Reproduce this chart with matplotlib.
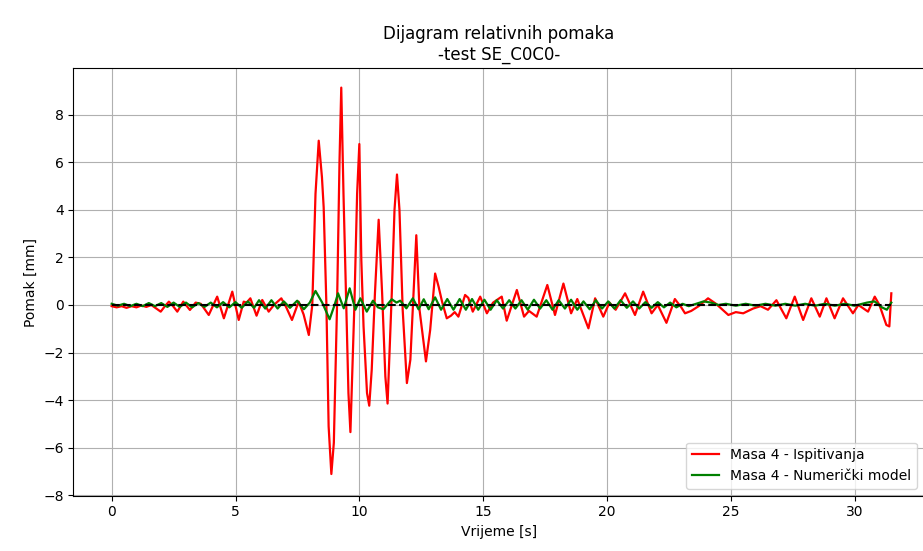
import numpy as np
import matplotlib
matplotlib.use("Agg")
import matplotlib.pyplot as plt

t_exp = [0.0, 0.2, 0.4, 0.6, 0.8, 1.0, 1.2, 1.4, 1.6, 1.8, 1.98, 2.15, 2.31, 2.48,
         2.65, 2.89, 3.16, 3.39, 3.6, 3.92, 4.26, 4.53, 4.87, 5.13, 5.33, 5.45, 5.6,
         5.85, 6.08, 6.34, 6.55, 6.85, 7.05, 7.28, 7.55, 7.75, 7.96, 8.1, 8.23, 8.36,
         8.49, 8.56, 8.67, 8.76, 8.87, 8.97, 9.1, 9.2, 9.27, 9.36, 9.47, 9.56, 9.64,
         9.8, 9.91, 10.0, 10.08, 10.17, 10.31, 10.4, 10.5, 10.63, 10.78, 10.92, 11.05,
         11.14, 11.31, 11.42, 11.52, 11.62, 11.75, 11.92, 12.06, 12.19, 12.3, 12.43,
         12.69, 12.86, 13.06, 13.2, 13.34, 13.53, 13.7, 13.85,
         14.0, 14.27, 14.4, 14.58, 14.88, 15.15, 15.4, 15.75, 15.95, 16.36, 16.65,
         16.85, 17.16, 17.59, 17.9, 18.24, 18.55, 18.8, 19.25, 19.52, 19.85, 20.1,
         20.35, 20.73, 21.13, 21.46, 21.8, 22.05, 22.4, 22.74, 23.0, 23.15, 23.4,
         23.7, 24.08, 24.4, 24.9, 25.2, 25.5, 25.9, 26.2, 26.5, 26.84, 27.24, 27.58,
         27.92, 28.25, 28.59, 28.86, 29.19, 29.53, 29.93, 30.15, 30.54, 30.81, 31.0,
         31.28, 31.4, 31.48]
y_exp = [-0.05, -0.1, -0.05, -0.12, -0.05, -0.1, -0.02, -0.08, 0.0, -0.15, -0.28, -0.05,
         0.14, -0.05, -0.28, 0.14, -0.21, 0.1, 0.05, -0.42, 0.35, -0.56, 0.56, -0.63,
         0.14, 0.1, 0.28, -0.45, 0.21, -0.28, 0.0, 0.28, -0.1, -0.63, 0.14, -0.4, -1.26,
         0.0, 4.67, 6.9, 5.37, 4.1, 0.0, -5.1, -7.1, -5.79, 0.0, 6.07, 9.13, 4.67, 0.0,
         -3.7, -5.34, 0.0, 4.67, 6.76, 1.88, -0.9, -3.7, -4.23, -2.72, 0.49, 3.58, 0.49,
         -3.0, -4.14, 0.49, 4.0, 5.48, 4.0, -0.2, -3.28, -2.3, 0.49, 2.93, -0.2, -2.37,
         -1.05, 1.32, 0.77, 0.14, -0.56, -0.45, -0.3,
         -0.49, 0.42, 0.3, -0.28, 0.35, -0.35, 0.1, 0.35, -0.66, 0.63, -0.49, -0.25,
         -0.49, 0.84, -0.42, 0.9, -0.35, 0.25, -0.98, 0.28, -0.49, 0.1, -0.2, 0.49,
         -0.42, 0.56, -0.35, 0.0, -0.75, 0.25, -0.1, -0.35, -0.25, -0.05, 0.28, 0.05,
         -0.42, -0.3, -0.35, -0.15, -0.05, -0.2, 0.2, -0.56, 0.35, -0.63, 0.28, -0.49,
         0.28, -0.56, 0.28, -0.35, 0.0, -0.28, 0.35, 0.0, -0.84, -0.9, 0.49]

# Masa 4 - Numericki model
t_num = [0.0, 0.25, 0.5, 0.75, 1.0, 1.25, 1.5, 1.75, 2.0, 2.25, 2.5, 2.75, 3.0, 3.25,
         3.5, 3.75, 4.0, 4.25, 4.5, 4.75, 5.0, 5.25, 5.5, 5.75, 5.95, 6.2, 6.45, 6.7,
         6.95, 7.2, 7.49, 7.76, 8.0, 8.23, 8.5, 8.8, 9.0, 9.14, 9.37, 9.61, 9.84,
         10.04, 10.3, 10.55, 10.75, 10.97, 11.31, 11.5, 11.65, 11.9, 12.16, 12.39,
         12.6, 12.8, 13.06, 13.3, 13.55, 13.8, 14.05, 14.3, 14.55, 14.8, 15.05, 15.3,
         15.55, 15.8, 16.05, 16.3, 16.55, 16.8, 17.05, 17.3, 17.55, 17.8, 18.05, 18.3,
         18.55, 18.8, 19.05, 19.3, 19.55, 19.8, 20.05, 20.3, 20.55, 20.8, 21.05, 21.3,
         21.55, 21.8, 22.05, 22.3, 22.55, 22.8, 23.05, 23.3, 23.6, 23.9, 24.2, 24.5,
         24.8, 25.2, 25.6, 26.0, 26.4, 26.8, 27.2, 27.6, 28.0, 28.4, 28.8, 29.2, 29.6,
         30.0, 30.5, 30.8, 31.1, 31.3, 31.48]
y_num = [0.05, -0.03, 0.05, -0.05, 0.05, -0.05, 0.08, -0.05, 0.08, -0.08, 0.1, -0.08,
         0.1, -0.1, 0.08, -0.08, 0.1, -0.1, 0.12, -0.1, 0.12, -0.12, 0.15, -0.12, 0.2,
         -0.15, 0.2, -0.15, 0.15, -0.12, 0.18, -0.18, 0.1, 0.59, 0.1, -0.6, 0.0, 0.49,
         -0.14, 0.7, -0.2, 0.28, -0.28, 0.18, -0.1, -0.18, 0.24, 0.1, 0.18, -0.14,
         0.28, -0.18, 0.24, -0.18, 0.32, -0.2, 0.25, -0.2, 0.25, -0.2, 0.25, -0.2,
         0.22, -0.2, 0.2, -0.15, 0.2, -0.15, 0.2, -0.2, 0.22, -0.15, 0.2, -0.2, 0.2,
         -0.15, 0.22, -0.2, 0.15, -0.18, 0.2, -0.15, 0.15, -0.15, 0.2, -0.12, 0.15,
         -0.15, 0.12, -0.12, 0.12, -0.1, 0.1, -0.1, 0.05, -0.05, 0.05, 0.15, 0.1, 0.0,
         0.05, -0.03, 0.05, -0.03, 0.05, -0.03, 0.05, -0.03, 0.05, -0.03, 0.05, -0.03,
         0.05, -0.03, 0.1, 0.15, -0.1, -0.2, 0.1]

t_exp = np.array(t_exp)
y_exp = np.array(y_exp)

fig = plt.figure(figsize=(9.23, 5.51), dpi=100)
ax = fig.add_axes([0.0794, 0.1004, 0.9217, 0.7756])

ax.plot(t_exp, y_exp, color='red', linewidth=1.6, label='Masa 4 - Ispitivanja')
ax.plot(t_num, y_num, color='green', linewidth=1.6, label='Masa 4 - Numerički model')
ax.plot(t_exp[[0, -1]], np.zeros(2), 'k--', linewidth=1.5)

ax.set_xlim(-1.55, 32.8)
ax.set_ylim(-8.01, 9.94)
ax.grid(True)
ax.set_title('Dijagram relativnih pomaka\n-test SE_C0C0-')
ax.set_xlabel('Vrijeme [s]')
ax.set_ylabel('Pomak [mm]')
ax.legend(loc='lower right')

fig.savefig('out.png', dpi=100)
